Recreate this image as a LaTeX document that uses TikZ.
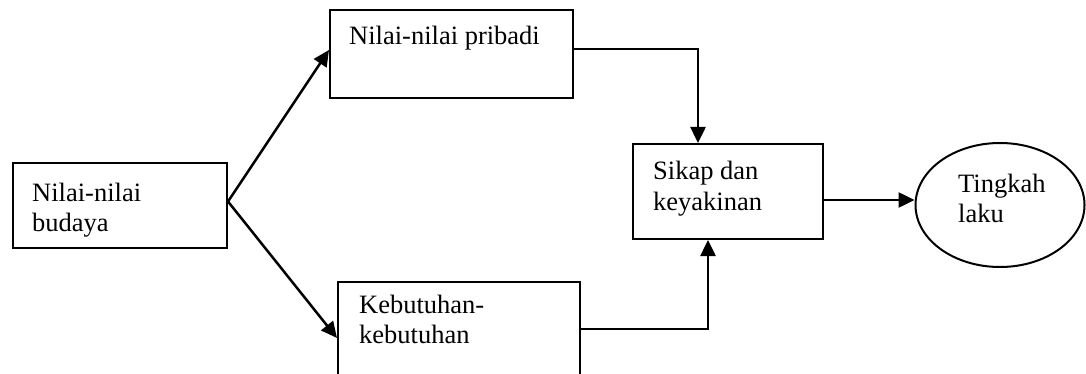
\documentclass[tikz,border=0pt]{standalone}
\usepackage{fontspec}
\setmainfont{Liberation Serif}
\usetikzlibrary{arrows.meta,shapes.geometric}
% two stacked lines whose baseline is that of the first line
\newcommand{\lblpair}[2]{\vtop{\hbox{#1}\hbox{#2}}}
\begin{document}
\begin{tikzpicture}[x=1pt,y=-1pt,
  box/.style={draw,line width=2pt,rectangle,inner sep=0pt,anchor=north west},
  lbl/.style={inner sep=0pt,anchor=base west,font=\fontsize{26.5}{30}\selectfont},
  flow/.style={line width=2.5pt,-{Triangle[length=16pt,width=15pt]}}]
\useasboundingbox (0,0) rectangle (1086,374);
% boxes
\node[box,minimum width=214pt,minimum height=85pt] (b1) at (12,162) {};
\node[box,minimum width=243pt,minimum height=88pt] (b2) at (329,9) {};
\node[box,minimum width=190pt,minimum height=95pt] (b3) at (632,143) {};
\node[box,minimum width=242pt,minimum height=110pt] (b4) at (337,281) {};
\node[draw,line width=2pt,ellipse,inner sep=0pt,minimum width=169pt,minimum height=124pt] (ell) at (1000,205) {};
% labels
\node[lbl] (t1) at (32,201) {\lblpair{Nilai-nilai}{budaya}};
\node[lbl] (t2) at (349,45) {Nilai-nilai pribadi};
\node[lbl] (t3) at (653,180) {\lblpair{Sikap dan}{keyakinan}};
\node[lbl] (t4) at (958,193) {\lblpair{Tingkah}{laku}};
\node[lbl] (t5) at (359,313) {\lblpair{Kebutuhan-}{kebutuhan}};
% connectors
\draw[flow] ([yshift=4pt]b1.east) -- ([yshift=4pt]b2.west);
\draw[flow] ([yshift=4pt]b1.east) -- ([yshift=-57pt]b4.north west);
\draw[flow] ([yshift=5pt]b2.east) -| ([xshift=-30pt]b3.north);
\draw[flow] ([yshift=-48pt]b4.north east) -| ([xshift=-20pt]b3.south);
\coordinate (c3) at ([yshift=-8.5pt]b3.east);
\draw[flow] (c3) -- (c3 -| ell.west);
\end{tikzpicture}
\end{document}
